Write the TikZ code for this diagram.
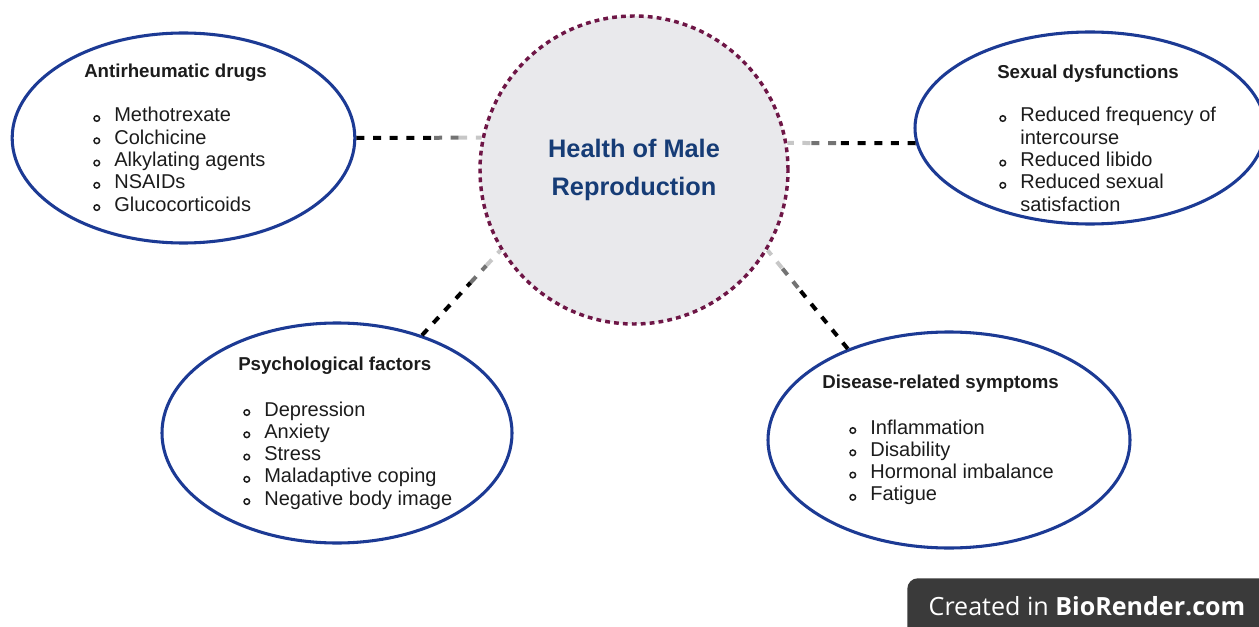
\documentclass[tikz,border=0pt]{standalone}
\usepackage{fontspec}
\setmainfont{Liberation Sans}
\newfontfamily\badgefont{Open Sans}
\usetikzlibrary{shapes.geometric,calc}
\definecolor{ringblue}{RGB}{28,58,148}
\definecolor{corered}{RGB}{110,22,70}
\definecolor{corefill}{RGB}{233,233,236}
\definecolor{titleblue}{RGB}{22,60,118}
\definecolor{badgegray}{RGB}{58,58,58}
\definecolor{inkgray}{RGB}{28,28,28}
\newcommand{\bul}{\tikz[baseline=-2.6pt]\draw[line width=1.1pt,inkgray] (0,0) circle (2.1pt);}
\newcommand{\itemlist}[1]{\begin{tabular}[t]{@{}c@{\hspace{10.5pt}}l@{}}#1\end{tabular}}

\begin{document}
\begin{tikzpicture}[x=0.75pt,y=-0.75pt,
    bubble/.style={ellipse, draw=ringblue, line width=2.3pt, fill=white, inner sep=0pt},
    core/.style={circle, draw=corered, line width=2.6pt, dash pattern=on 3.6pt off 3.1pt,
        fill=corefill, minimum size=231pt, inner sep=0pt, align=center, text=titleblue,
        font=\fontsize{19}{28}\selectfont\bfseries},
    head/.style={anchor=base west, inner sep=0pt, text=inkgray, font=\fontsize{14}{16.7}\selectfont\bfseries},
    list/.style={anchor=base west, inner sep=0pt, text=inkgray, font=\fontsize{15}{16.7}\selectfont},
    link/.style={line width=3pt, dash pattern=on 6pt off 6.5pt}]
\useasboundingbox (0,0) rectangle (1259,627);

% the four groups round the centre
\node[bubble, minimum width=257pt, minimum height=157.5pt] (drugs) at (183.5,138) {};
\node[bubble, minimum width=262.5pt, minimum height=144pt] (sexual) at (1090,128) {};
\node[bubble, minimum width=262.5pt, minimum height=165pt] (psych) at (337,433) {};
\node[bubble, minimum width=271.5pt, minimum height=162pt] (symp) at (949,440) {};

\node[core] (core) at (634,170) {Health of Male\\Reproduction};

\node[head] (drugsT) at (84,78) {Antirheumatic drugs};
\node[list] (drugsL) at (93,122) {\itemlist{%
    \bul & Methotrexate\\ \bul & Colchicine\\ \bul & Alkylating agents\\
    \bul & NSAIDs\\ \bul & Glucocorticoids}};

\node[head] (sexualT) at (997,79) {Sexual dysfunctions};
\node[list] (sexualL) at (999,122) {\itemlist{%
    \bul & Reduced frequency of\\ & intercourse\\ \bul & Reduced libido\\
    \bul & Reduced sexual\\ & satisfaction}};

\node[head] (psychT) at (238,370) {Psychological factors};
\node[list] (psychL) at (243,416) {\itemlist{%
    \bul & Depression\\ \bul & Anxiety\\ \bul & Stress\\
    \bul & Maladaptive coping\\ \bul & Negative body image}};

\node[head] (sympT) at (822,388) {Disease-related symptoms};
\node[list] (sympL) at (849,434) {\itemlist{%
    \bul & Inflammation\\ \bul & Disability\\ \bul & Hormonal imbalance\\
    \bul & Fatigue}};

% dashed links, fading out towards the centre
\foreach \a/\b in {drugs.east/core.168, sexual.185/core.10, psych.49/core.211, symp.138/core.329} {
    \draw[link, black] (\a) -- ($(\a)!0.62!(\b)$);
    \draw[link, black!55] ($(\a)!0.62!(\b)$) -- ($(\a)!0.82!(\b)$);
    \draw[link, black!22] ($(\a)!0.82!(\b)$) -- (\b);
}

% credit badge
\node[fill=badgegray, rounded corners=8pt, anchor=north west, minimum width=290pt,
    minimum height=50pt] (badge) at (907,578) {};
\node[text=white, inner sep=0pt, font=\badgefont\fontsize{18.8}{20}\selectfont] (credit) at (1087,606)
    {Created in \textbf{BioRender.com}};
\end{tikzpicture}
\end{document}
